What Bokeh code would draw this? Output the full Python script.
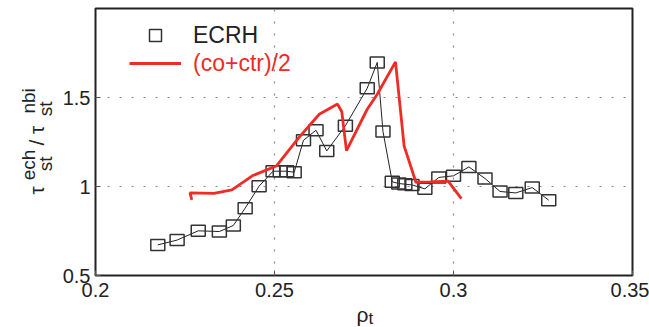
import math
from bokeh.plotting import figure
from bokeh.layouts import row, column
from bokeh.models import Range1d, FixedTicker, Legend, LegendItem
from bokeh.core.properties import value
from bokeh.embed import file_html
from bokeh.resources import INLINE

# ---- data ----
ecrh_x = [0.2174, 0.2228, 0.2287, 0.2346, 0.2385, 0.2418, 0.2457, 0.2496, 0.2516, 0.2534,
          0.2555, 0.2581, 0.2616, 0.2646, 0.2698, 0.2759, 0.2787, 0.2803, 0.2829, 0.2847,
          0.2864, 0.2884, 0.2920, 0.2959, 0.3000, 0.3043, 0.3088, 0.3130, 0.3174, 0.3220,
          0.3266]
ecrh_y = [0.672, 0.699, 0.751, 0.747, 0.781, 0.878, 1.002, 1.086, 1.086, 1.086,
          1.080, 1.260, 1.316, 1.200, 1.341, 1.552, 1.697, 1.309, 1.026, 1.017,
          1.013, 1.009, 0.987, 1.051, 1.060, 1.110, 1.045, 0.972, 0.964, 0.994,
          0.923]

avg_x = [0.2269, 0.2264, 0.2331, 0.2381, 0.2438, 0.2505, 0.2568, 0.2625, 0.2676, 0.2688,
         0.2701, 0.2759, 0.2787, 0.2838, 0.2862, 0.2895, 0.2935, 0.2985, 0.3022]
avg_y = [0.925, 0.964, 0.961, 0.981, 1.060, 1.115, 1.275, 1.406, 1.463, 1.420,
         1.202, 1.434, 1.518, 1.700, 1.228, 1.024, 1.026, 1.030, 0.932]

x_ticks = [0.2, 0.25, 0.3, 0.35]
x_tick_labels = ["0.2", "0.25", "0.3", "0.35"]
y_ticks = [0.5, 1.0, 1.5]
y_tick_labels = ["0.5", "1", "1.5"]
series_labels = ["ECRH", "(co+ctr)/2"]
x_label_parts = ["\u03c1", "t"]
y_label_parts = ["\u03c4", "st", "ech", "/", "\u03c4", "st", "nbi"]

FONT = "Liberation Sans"
RED = "#ee2b24"
DARK = "#222222"

YLAB_W = 56          # width of the y-title strip
MAIN_H = 300         # height of the main figure
XLAB_H = 327 - MAIN_H


def bare(fig):
    fig.axis.visible = False
    fig.grid.visible = False
    fig.outline_line_color = None
    fig.min_border = 0
    return fig


# ---------------- main plot ----------------
p = figure(width=649 - YLAB_W, height=MAIN_H, output_backend="svg", toolbar_location=None,
           x_range=Range1d(0.2, 0.35), y_range=Range1d(0.5, 2.0),
           min_border_left=95 - YLAB_W, min_border_right=17, min_border_top=8,
           min_border_bottom=MAIN_H - 275,
           background_fill_color="white", border_fill_color="white")

p.outline_line_color = DARK
p.outline_line_width = 2

for ax, ticks, labels in ((p.xaxis, x_ticks, x_tick_labels), (p.yaxis, y_ticks, y_tick_labels)):
    ax.ticker = FixedTicker(ticks=ticks)
    ax.major_label_overrides = {t: l for t, l in zip(ticks, labels)}
    ax.axis_line_color = None
    ax.major_tick_in = 5
    ax.major_tick_out = 0
    ax.major_tick_line_color = "#555555"
    ax.minor_tick_line_color = None
    ax.major_label_text_font = FONT
    ax.major_label_text_font_size = "20px"
    ax.major_label_text_color = DARK
p.xaxis.major_label_standoff = 7
p.yaxis.major_label_standoff = 5

p.grid.grid_line_color = "#888888"
p.grid.grid_line_dash = "2 10"
p.grid.grid_line_width = 1.2

# ECRH: connecting line + open rectangles
p.line(ecrh_x, ecrh_y, line_color=DARK, line_width=1)
p.rect(ecrh_x, ecrh_y, width=14, height=11, width_units="screen", height_units="screen",
       fill_color=None, line_color="#333333", line_width=1.5)
# legend-only marker (a single NaN point, so nothing is drawn in the frame)
r_sq_leg = p.scatter(x=[float("nan")], y=[float("nan")], marker="square", size=13,
                     fill_color=None, line_color="#333333", line_width=1.5)

# (co+ctr)/2
r_red = p.line(avg_x, avg_y, line_color=RED, line_width=2.8)

common = dict(glyph_width=52, glyph_height=30, label_height=30, label_standoff=12,
              padding=0, margin=0, spacing=0, border_line_color=None,
              background_fill_alpha=0, label_text_font=FONT, label_text_font_size="23px")
leg1 = Legend(items=[LegendItem(label=series_labels[0], renderers=[r_sq_leg])],
              location=(34, 225), label_text_color=DARK, **common)
leg2 = Legend(items=[LegendItem(label=series_labels[1], renderers=[r_red])],
              location=(34, 197), label_text_color=RED, **common)
p.add_layout(leg1)
p.add_layout(leg2)

# ---------------- y title strip (pixel coordinates) ----------------
yl = bare(figure(width=YLAB_W, height=MAIN_H, output_backend="svg", toolbar_location=None,
                 x_range=Range1d(0, YLAB_W), y_range=Range1d(0, MAIN_H)))
# (baseline x, start y measured from the top of the picture, font size)
y_pos = [(36, 209, "21px"), (45, 183, "19px"), (28, 193, "19px"), (36, 154, "21px"),
         (36, 141, "21px"), (45, 121, "19px"), (28, 118, "19px")]
for txt, (bx, sy, fs) in zip(y_label_parts, y_pos):
    yl.text(x=[bx], y=[MAIN_H - sy], text=[txt], angle=math.pi / 2,
            text_font=value(FONT), text_font_size=fs, text_color=DARK,
            text_align="left", text_baseline="alphabetic")

# ---------------- x title strip (pixel coordinates) ----------------
xl = bare(figure(width=649, height=XLAB_H, output_backend="svg", toolbar_location=None,
                 x_range=Range1d(0, 649), y_range=Range1d(0, XLAB_H)))
x_pos = [(356, 314, "21px"), (368, 318, "17px")]
for txt, (sx, sy, fs) in zip(x_label_parts, x_pos):
    xl.text(x=[sx], y=[327 - sy], text=[txt], text_font=value(FONT), text_font_size=fs,
            text_color=DARK, text_align="left", text_baseline="alphabetic")

layout = column(row(yl, p, spacing=0), xl, spacing=0)
open("out.html", "w").write(file_html(layout, INLINE))
